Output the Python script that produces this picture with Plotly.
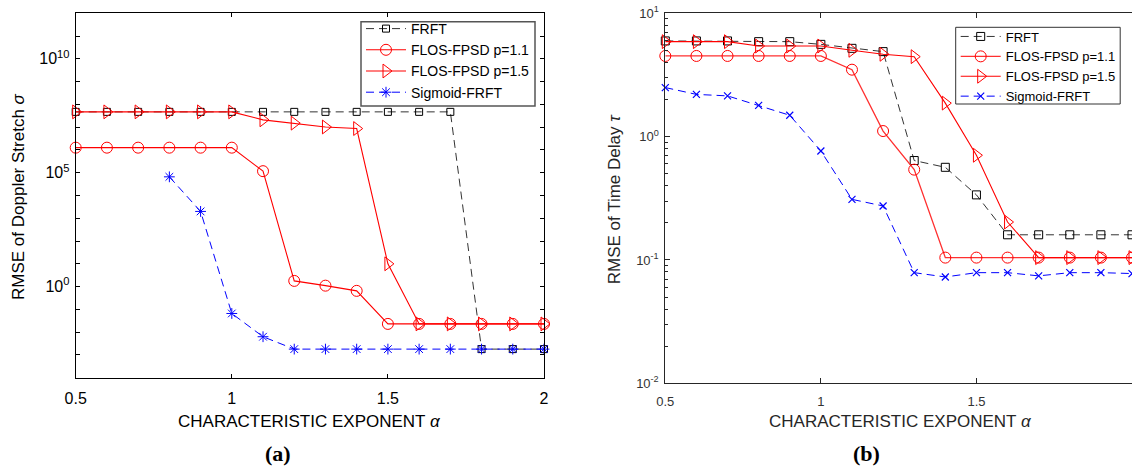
import plotly.graph_objects as go

# ---------------- data ----------------
alpha = [0.5, 0.6, 0.7, 0.8, 0.9, 1.0, 1.1, 1.2, 1.3, 1.4, 1.5, 1.6, 1.7, 1.8, 1.9, 2.0]

# (a) RMSE of Doppler stretch sigma
a_frft = [4.7e7, 4.7e7, 4.7e7, 4.7e7, 4.7e7, 4.7e7, 4.7e7, 4.7e7, 4.7e7, 4.7e7, 4.7e7, 4.7e7, 4.7e7,
          1.8e-3, 1.8e-3, 1.8e-3]
a_flos11 = [1.26e6, 1.26e6, 1.26e6, 1.26e6, 1.26e6, 1.26e6, 1.17e5, 1.78, 1.1, 0.65,
            0.023, 0.023, 0.023, 0.023, 0.023, 0.023]
a_flos15 = [4.7e7, 4.7e7, 4.7e7, 4.7e7, 4.7e7, 4.7e7, 2.1e7, 1.5e7, 1.02e7, 8.7e6,
            10.0, 0.023, 0.023, 0.023, 0.023, 0.023]
a_sigmoid = [None, None, None, 6.6e4, 2.0e3, 0.066, 6.3e-3, 1.8e-3, 1.8e-3, 1.8e-3,
             1.8e-3, 1.8e-3, 1.8e-3, 1.8e-3, 1.8e-3, 1.8e-3]

# (b) RMSE of time delay tau
b_frft = [5.97, 5.97, 5.97, 5.89, 5.89, 5.6, 5.2, 4.89, 0.64, 0.564, 0.337, 0.160,
          0.160, 0.160, 0.160, 0.160]
b_flos11 = [4.51, 4.51, 4.51, 4.51, 4.51, 4.51, 3.49, 1.11, 0.54, 0.1045, 0.1045, 0.1045,
            0.1045, 0.1045, 0.1045, 0.1045]
b_flos15 = [5.89, 5.89, 5.89, 5.43, 5.43, 5.43, 5.01, 4.65, 4.45, 1.87, 0.706, 0.203,
            0.1045, 0.1045, 0.1045, 0.1045]
b_sigmoid = [2.50, 2.20, 2.14, 1.79, 1.49, 0.765, 0.310, 0.274, 0.0789, 0.0728, 0.0789,
             0.0789, 0.0743, 0.0789, 0.0789, 0.0776]

names = ["FRFT", "FLOS-FPSD p=1.1", "FLOS-FPSD p=1.5", "Sigmoid-FRFT"]
a_xticks = [0.5, 1, 1.5, 2]
a_xticktext = ["0.5", "1", "1.5", "2"]
a_ylabel_exp = [0, 5, 10]
a_minor_exp = [k for k in range(-4, 13) if k not in (0, 5, 10)]
b_yexp = [-2, -1, 0, 1]

W, H = 1132, 470
FONT = "Liberation Sans, Arial, Helvetica, sans-serif"

fig = go.Figure()

DASH = "8px,5px"

# ---- left subplot traces ----
left_styles = [
    (a_frft, dict(color="#333333", width=1, dash=DASH), dict(symbol="square-open", size=7, color="#000000", line=dict(width=1))),
    (a_flos11, dict(color="#ff0000", width=1.1), dict(symbol="circle-open", size=11, color="#ff0000", line=dict(width=1))),
    (a_flos15, dict(color="#ff0000", width=1.1), dict(symbol="triangle-right-open", size=12, color="#ff0000", line=dict(width=1))),
    (a_sigmoid, dict(color="#0000ff", width=1, dash=DASH), dict(symbol="asterisk-open", size=9, color="#0000ff", line=dict(width=1))),
]
for i, (ys, ln, mk) in enumerate(left_styles):
    fig.add_trace(go.Scatter(x=alpha, y=ys, mode="lines+markers", name=names[i],
                             line=ln, marker=mk, cliponaxis=False,
                             xaxis="x", yaxis="y", legend="legend", connectgaps=False))

# ---- right subplot traces ----
right_styles = [
    (b_frft, dict(color="#333333", width=1, dash=DASH), dict(symbol="square-open", size=8, color="#000000", line=dict(width=1))),
    (b_flos11, dict(color="#ff3030", width=1.3), dict(symbol="circle-open", size=11, color="#ff0000", line=dict(width=1))),
    (b_flos15, dict(color="#ff0000", width=1.1), dict(symbol="triangle-right-open", size=12, color="#ff0000", line=dict(width=1))),
    (b_sigmoid, dict(color="#0000ff", width=1, dash=DASH), dict(symbol="x-thin-open", size=7, color="#0000ff", line=dict(width=1.2))),
]
for i, (ys, ln, mk) in enumerate(right_styles):
    fig.add_trace(go.Scatter(x=alpha, y=ys, mode="lines+markers", name=names[i],
                             line=ln, marker=mk, cliponaxis=False,
                             xaxis="x2", yaxis="y2", legend="legend2"))

axis_common = dict(showgrid=False, zeroline=False, showline=True, ticks="inside", automargin=False)

fig.update_layout(
    width=W, height=H, autosize=False,
    margin=dict(l=0, r=0, t=0, b=0, pad=0),
    paper_bgcolor="white", plot_bgcolor="white",
    font=dict(family=FONT, color="#000000"),
    xaxis=dict(axis_common, domain=[75.7 / W, 544 / W], range=[0.5, 2], anchor="y",
               tickvals=a_xticks, ticktext=a_xticktext, ticklen=4, linecolor="#000000",
               linewidth=1, mirror="ticks", tickcolor="#000000",
               tickfont=dict(size=16, color="#000000"), ticklabelstandoff=6),
    yaxis=dict(axis_common, type="log", domain=[1 - 377.7 / H, 1 - 13.3 / H], range=[-4, 12],
               anchor="x", tickvals=[10.0 ** k for k in a_ylabel_exp],
               ticktext=["10<sup>%d</sup>" % k for k in a_ylabel_exp], ticklen=4,
               linecolor="#000000", linewidth=1, mirror="ticks", tickcolor="#000000",
               tickfont=dict(size=16, color="#000000"), ticklabelstandoff=2,
               minor=dict(ticks="inside", ticklen=4, tickcolor="#000000",
                          tickvals=[10.0 ** k for k in a_minor_exp])),
    xaxis2=dict(axis_common, domain=[665.3 / W, 1.0], range=[0.5, 2.0], anchor="y2",
                tickvals=a_xticks, ticktext=a_xticktext, ticklen=5, linecolor="#262626",
                linewidth=1, mirror="ticks", tickcolor="#262626",
                tickfont=dict(size=13, color="#333333"), ticklabelstandoff=6),
    yaxis2=dict(axis_common, type="log", domain=[1 - 383.3 / H, 1 - 13.3 / H], range=[-2, 1],
                anchor="x2", tickvals=[10.0 ** k for k in b_yexp],
                ticktext=["10<sup>%d</sup>" % k for k in b_yexp], ticklen=5,
                linecolor="#262626", linewidth=1, mirror=False, tickcolor="#262626",
                tickfont=dict(size=13, color="#333333"), ticklabelstandoff=3,
                minor=dict(ticks="inside", ticklen=3, tickcolor="#262626",
                           tickvals=[m * 10.0 ** k for k in b_yexp[:-1] for m in range(2, 10)])),
    legend=dict(x=361 / W, y=1 - 13 / H, xanchor="left", yanchor="top",
                bgcolor="rgba(0,0,0,0)", borderwidth=0,
                font=dict(size=14, family=FONT, color="#000000"),
                itemwidth=40),
    legend2=dict(x=955.7 / W, y=1 - 21.5 / H, xanchor="left", yanchor="top",
                 bgcolor="rgba(0,0,0,0)", borderwidth=0,
                 font=dict(size=13, family=FONT, color="#000000"),
                 itemwidth=40),
    shapes=[
        dict(type="rect", xref="paper", yref="paper", x0=361 / W, x1=535 / W,
             y0=1 - 106 / H, y1=1 - 21.7 / H, line=dict(color="#555555", width=1.5),
             fillcolor="white", layer="above"),
        dict(type="rect", xref="paper", yref="paper", x0=955.7 / W, x1=1120.2 / W,
             y0=1 - 104 / H, y1=1 - 27.3 / H, line=dict(color="#333333", width=1),
             fillcolor="white", layer="above"),
    ],
)

ann = []
# axis titles
ann.append(dict(text="CHARACTERISTIC EXPONENT <i>α</i>", x=309.8 / W, y=1 - 421.7 / H,
                xref="paper", yref="paper", showarrow=False, xanchor="center", yanchor="middle",
                font=dict(size=17, family=FONT, color="#000000")))
ann.append(dict(text="CHARACTERISTIC EXPONENT <i>α</i>", x=900.3 / W, y=1 - 421.7 / H,
                xref="paper", yref="paper", showarrow=False, xanchor="center", yanchor="middle",
                font=dict(size=17, family=FONT, color="#262626")))
ann.append(dict(text="RMSE of Doppler Stretch <i>σ</i>", x=18 / W, y=1 - 197 / H,
                xref="paper", yref="paper", showarrow=False, textangle=-90,
                xanchor="center", yanchor="middle",
                font=dict(size=17, family=FONT, color="#000000")))
ann.append(dict(text="RMSE of Time Delay <i>τ</i>", x=614.8 / W, y=1 - 198.5 / H,
                xref="paper", yref="paper", showarrow=False, textangle=-90,
                xanchor="center", yanchor="middle",
                font=dict(size=17, family=FONT, color="#262626")))
# sub-figure labels
ann.append(dict(text="<b>(a)</b>", x=278 / W, y=1 - 453 / H, xref="paper", yref="paper",
                showarrow=False, xanchor="center", yanchor="middle",
                font=dict(size=22, family="Liberation Serif, Times New Roman, serif", color="#000000")))
ann.append(dict(text="<b>(b)</b>", x=866.8 / W, y=1 - 453 / H, xref="paper", yref="paper",
                showarrow=False, xanchor="center", yanchor="middle",
                font=dict(size=22, family="Liberation Serif, Times New Roman, serif", color="#000000")))
fig.update_layout(annotations=ann)

fig.write_html("out.html", config={"displayModeBar": False},
               post_script="document.body.style.margin='0';document.body.style.overflow='hidden';")
